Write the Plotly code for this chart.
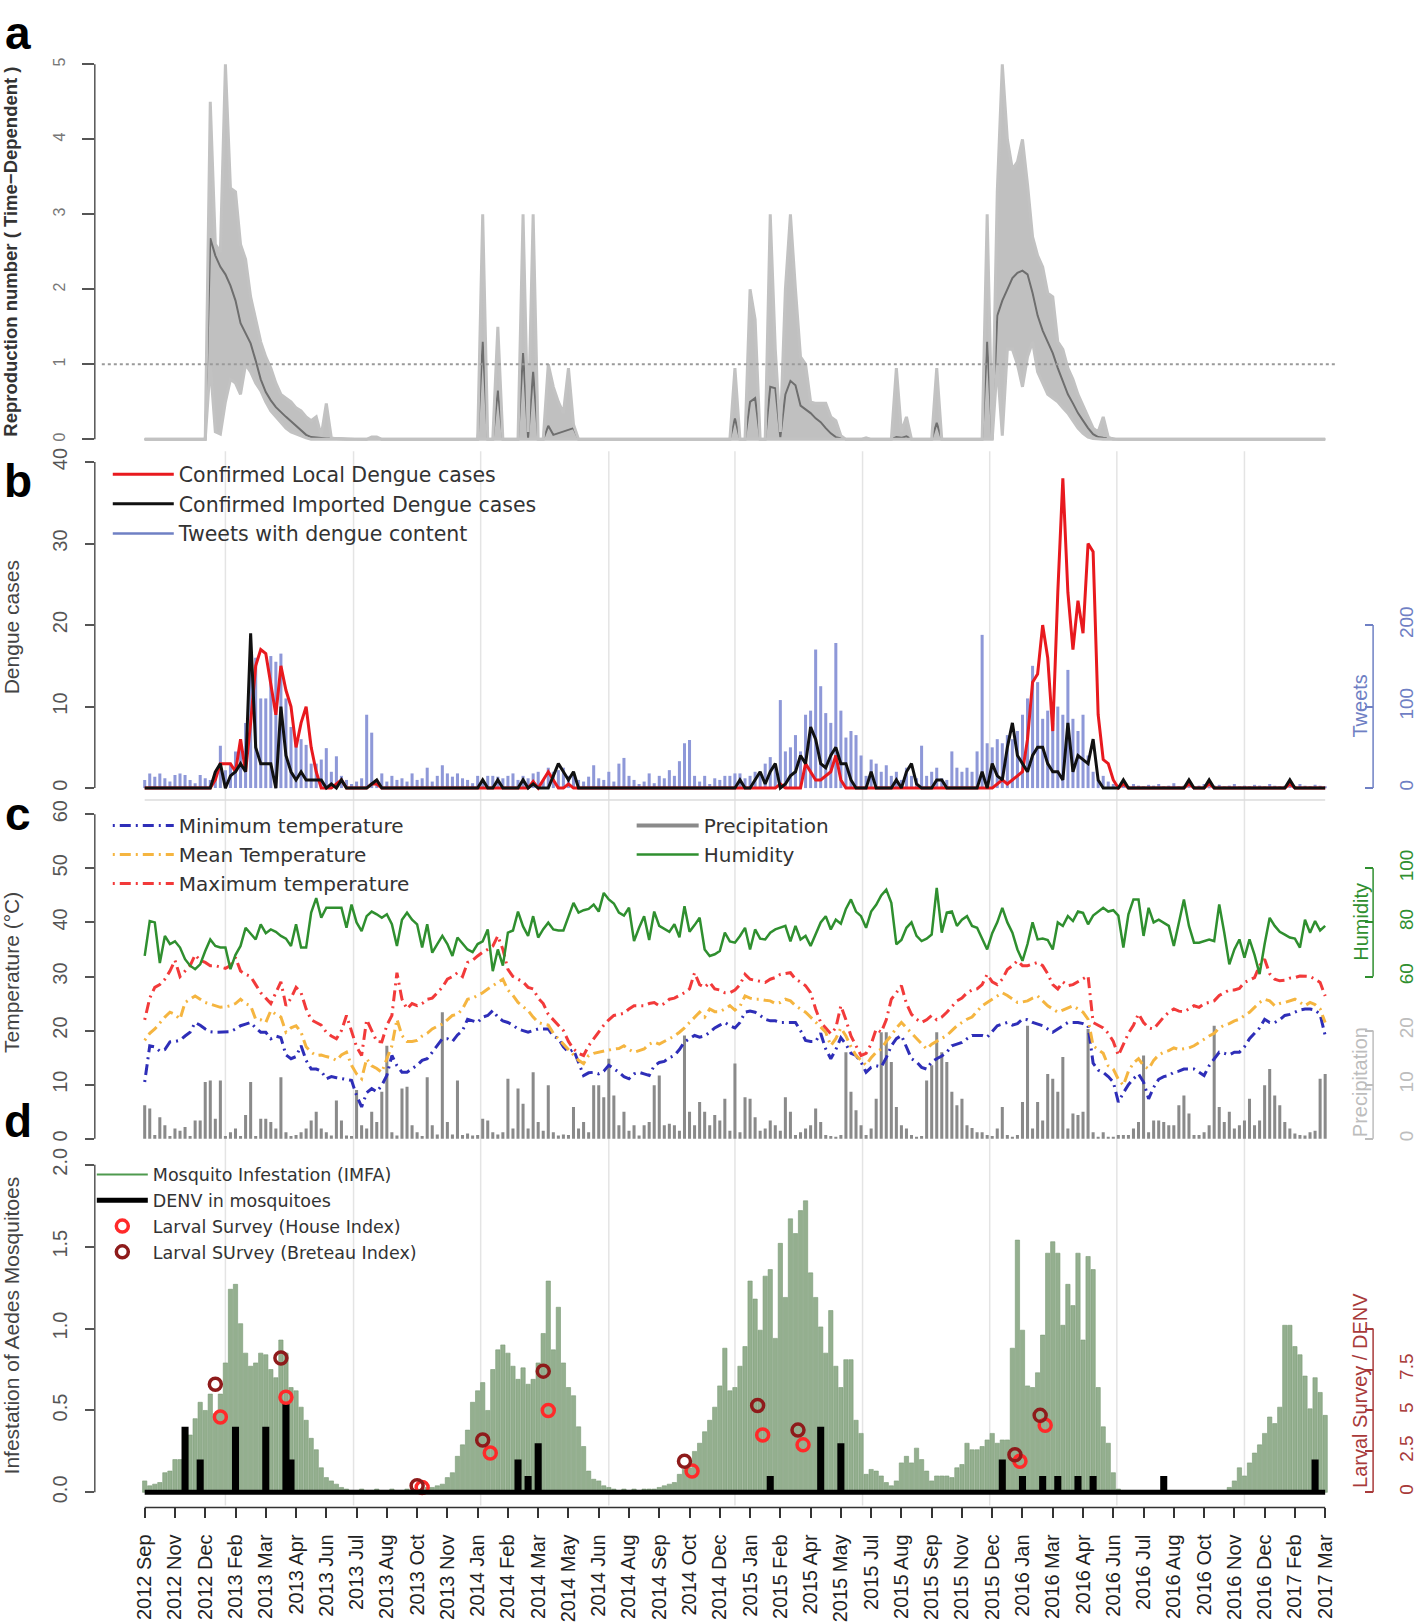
import plotly.graph_objects as go

W, H = 1418, 1624

# week index 0..234 (Sep 2012 .. Mar 2017)
weeks = list(range(235))
tick_weeks = weeks[::6]
tick_labels = [
    "2012 Sep", "2012 Nov", "2012 Dec", "2013 Feb", "2013 Mar", "2013 Apr",
    "2013 Jun", "2013 Jul", "2013 Aug", "2013 Oct", "2013 Nov", "2014 Jan",
    "2014 Feb", "2014 Mar", "2014 May", "2014 Jun", "2014 Aug", "2014 Sep",
    "2014 Oct", "2014 Dec", "2015 Jan", "2015 Feb", "2015 Apr", "2015 May",
    "2015 Jul", "2015 Aug", "2015 Sep", "2015 Nov", "2015 Dec", "2016 Jan",
    "2016 Mar", "2016 Apr", "2016 Jun", "2016 Jul", "2016 Aug", "2016 Oct",
    "2016 Nov", "2016 Dec", "2017 Feb", "2017 Mar",
]

# (a) time-dependent reproduction number
r_mid = [
    0, 0, 0, 0, 0, 0, 0, 0, 0, 0,
    0, 0, 0, 2.68, 2.45, 2.3, 2.2, 2.05, 1.85, 1.55,
    1.42, 1.28, 1.05, 0.8, 0.63, 0.52, 0.43, 0.36, 0.3, 0.24,
    0.18, 0.12, 0.06, 0.03, 0.02, 0.01, 0.01, 0.01, 0.01, 0,
    0, 0, 0, 0, 0, 0.02, 0.02, 0, 0, 0,
    0, 0, 0, 0, 0, 0, 0, 0, 0, 0,
    0, 0, 0, 0, 0, 0, 0, 1.3, 0, 0,
    0.65, 0, 0, 0, 0, 1.15, 0.02, 0.9, 0, 0,
    0.18, 0.06, 0.08, 0.1, 0.12, 0.15, 0, 0, 0, 0,
    0, 0, 0, 0, 0, 0, 0, 0, 0, 0,
    0, 0, 0, 0, 0, 0, 0, 0, 0, 0,
    0, 0, 0, 0, 0, 0, 0, 0.28, 0, 0,
    0.5, 0.55, 0, 0, 0.7, 0.68, 0.03, 0.6, 0.78, 0.72,
    0.45, 0.4, 0.35, 0.28, 0.23, 0.15, 0.08, 0.03, 0.01, 0,
    0, 0, 0, 0.01, 0, 0, 0, 0, 0, 0.03,
    0.02, 0.04, 0, 0, 0, 0, 0, 0.22, 0, 0,
    0, 0, 0, 0, 0, 0, 0, 1.3, 0, 1.65,
    1.85, 2.0, 2.15, 2.22, 2.25, 2.2, 1.95, 1.65, 1.45, 1.3,
    1.15, 0.95, 0.78, 0.6, 0.48, 0.35, 0.25, 0.15, 0.07, 0.03,
    0.02, 0.01, 0, 0, 0, 0, 0, 0, 0, 0,
    0, 0, 0, 0, 0, 0, 0, 0, 0, 0,
    0, 0, 0, 0, 0, 0, 0, 0, 0, 0,
    0, 0, 0, 0, 0, 0, 0, 0, 0, 0,
    0, 0, 0, 0, 0,
]
r_lo = [
    0, 0, 0, 0, 0, 0, 0, 0, 0, 0,
    0, 0, 0, 1.0, 0.1, 0.07, 0.5, 0.8, 0.75, 0.6,
    1.0, 0.9, 0.75, 0.65, 0.5, 0.38, 0.3, 0.22, 0.15, 0.1,
    0.07, 0.04, 0.02, 0, 0, 0, 0, 0, 0, 0,
    0, 0, 0, 0, 0, 0, 0, 0, 0, 0,
    0, 0, 0, 0, 0, 0, 0, 0, 0, 0,
    0, 0, 0, 0, 0, 0, 0, 0, 0, 0,
    0, 0, 0, 0, 0, 0, 0, 0, 0, 0,
    0, 0, 0, 0, 0, 0, 0, 0, 0, 0,
    0, 0, 0, 0, 0, 0, 0, 0, 0, 0,
    0, 0, 0, 0, 0, 0, 0, 0, 0, 0,
    0, 0, 0, 0, 0, 0, 0, 0, 0, 0,
    0, 0, 0, 0, 0, 0, 0, 0, 0, 0,
    0, 0, 0, 0, 0, 0, 0, 0, 0, 0,
    0, 0, 0, 0, 0, 0, 0, 0, 0, 0,
    0, 0, 0, 0, 0, 0, 0, 0, 0, 0,
    0, 0, 0, 0, 0, 0, 0, 0, 0, 1.0,
    0.05, 1.2, 1.2, 1.0, 0.7, 1.1, 1.3, 0.9, 0.75, 0.6,
    0.55, 0.5, 0.42, 0.35, 0.25, 0.15, 0.08, 0.03, 0.01, 0,
    0, 0, 0, 0, 0, 0, 0, 0, 0, 0,
    0, 0, 0, 0, 0, 0, 0, 0, 0, 0,
    0, 0, 0, 0, 0, 0, 0, 0, 0, 0,
    0, 0, 0, 0, 0, 0, 0, 0, 0, 0,
    0, 0, 0, 0, 0,
]
r_hi = [
    0, 0, 0, 0, 0, 0, 0, 0, 0, 0,
    0, 0, 0, 4.5, 2.6, 2.5, 5.0, 3.35, 3.3, 2.6,
    2.4, 1.9, 1.6, 1.3, 1.1, 0.95, 0.75, 0.6, 0.55, 0.5,
    0.42, 0.38, 0.3, 0.25, 0.3, 0.05, 0.48, 0.02, 0.01, 0,
    0, 0, 0, 0, 0, 0.03, 0.03, 0, 0, 0,
    0, 0, 0, 0, 0, 0, 0, 0, 0, 0,
    0, 0, 0, 0, 0, 0, 0, 3.0, 0, 0,
    1.5, 0, 0, 0, 0, 3.0, 0.1, 3.0, 0, 0,
    1.0, 0.7, 0.5, 0.35, 0.95, 0.2, 0, 0, 0, 0,
    0, 0, 0, 0, 0, 0, 0, 0, 0, 0,
    0, 0, 0, 0, 0, 0, 0, 0, 0, 0,
    0, 0, 0, 0, 0, 0, 0, 0.95, 0, 0,
    2.0, 1.6, 0, 0, 3.0, 1.2, 0.1, 2.0, 3.0, 2.0,
    1.1, 1.0, 0.5, 0.48, 0.48, 0.48, 0.3, 0.25, 0.05, 0,
    0, 0, 0, 0.02, 0, 0, 0, 0, 0, 0.95,
    0.1, 0.3, 0, 0, 0, 0, 0, 0.95, 0, 0,
    0, 0, 0, 0, 0, 0, 0, 3.0, 0, 3.3,
    5.0, 4.0, 3.6, 3.7, 4.0, 3.4, 2.7, 2.45, 2.3, 1.95,
    1.9, 1.3, 1.2, 0.95, 0.8, 0.6, 0.45, 0.3, 0.15, 0.1,
    0.3, 0.03, 0, 0, 0, 0, 0, 0, 0, 0,
    0, 0, 0, 0, 0, 0, 0, 0, 0, 0,
    0, 0, 0, 0, 0, 0, 0, 0, 0, 0,
    0, 0, 0, 0, 0, 0, 0, 0, 0, 0,
    0, 0, 0, 0, 0,
]

# (b) dengue cases and tweets
local_cases = [
    0, 0, 0, 0, 0, 0, 0, 0, 0, 0,
    0, 0, 0, 0, 1, 3, 3, 3, 2, 6,
    2, 8, 15, 17, 16.5, 13, 9, 15, 12, 10,
    5, 8, 10, 5, 2, 0, 0, 0, 0.5, 1,
    0, 0, 0, 0, 0, 0.5, 0.5, 0, 0, 0,
    0, 0, 0, 0, 0, 0, 0, 0, 0, 0,
    0, 0, 0, 0, 0, 0, 0, 0, 0, 0,
    0, 0, 0, 0, 0, 0, 0, 0.8, 0, 1,
    2, 1, 0, 0, 0.5, 0, 0, 0, 0, 0,
    0, 0, 0, 0, 0, 0, 0, 0, 0, 0,
    0, 0, 0, 0, 0, 0, 0, 0, 0, 0,
    0, 0, 0, 0, 0, 0, 0, 0, 0, 0,
    0, 0, 0, 0, 0, 0, 0.5, 0, 0, 0,
    0, 3, 2, 1, 1, 1.5, 2, 4, 1, 0,
    0, 0, 0, 0, 0, 0, 0, 0, 0, 0,
    0, 0, 0, 0, 0, 0, 0, 0, 0, 0,
    0, 0, 0, 0, 0, 0, 0, 0, 0, 0.5,
    1, 0.5, 1, 1.5, 2, 6, 13, 14, 20, 16,
    7, 24, 38, 24, 17, 23, 19, 30, 29, 9,
    3.5, 3, 1, 0, 0.5, 0, 0, 0, 0, 0,
    0, 0, 0, 0, 0, 0, 0, 0.5, 0, 0,
    0, 0.5, 0, 0, 0, 0, 0, 0, 0, 0,
    0, 0, 0, 0, 0, 0, 0, 0.5, 0, 0,
    0, 0, 0, 0, 0,
]
imported_cases = [
    0, 0, 0, 0, 0, 0, 0, 0, 0, 0,
    0, 0, 0, 0, 2, 3, 0, 1.5, 2, 3,
    2, 19, 5, 3, 3, 3, 0, 10, 4, 2,
    1, 2, 1, 1, 1, 1, 0, 0.5, 0, 1,
    0, 0, 0, 0, 0, 0.5, 1, 0, 0, 0,
    0, 0, 0, 0, 0, 0, 0, 0, 0, 0,
    0, 0, 0, 0, 0, 0, 0, 1, 0, 0,
    1, 0, 0, 0, 0, 1, 0, 0.5, 0, 0,
    0, 1.5, 3, 2, 1, 2, 0, 0, 0, 0,
    0, 0, 0, 0, 0, 0, 0, 0, 0, 0,
    0, 0, 0, 0, 0, 0, 0, 0, 0, 0,
    0, 0, 0, 0, 0, 0, 0, 0, 1, 0,
    0, 1, 2, 0.5, 2, 3, 0, 0.5, 1.5, 2,
    4, 3, 7.5, 6, 3, 2.5, 4, 5, 3, 3,
    1, 0, 0, 0, 2, 0, 0, 0, 0, 1,
    0, 2, 3, 0.5, 0, 0, 0, 1, 1, 0,
    0, 0, 0, 0, 0, 0, 2, 0, 3, 1.5,
    1, 5, 8, 4, 3, 2, 4, 5, 5, 3,
    2, 2, 1, 8, 2, 4, 3.5, 3, 6, 1,
    0, 0, 0, 0, 1, 0, 0, 0, 0, 0,
    0, 0, 0, 0, 0, 0, 0, 1, 0, 0,
    0, 1, 0, 0, 0, 0, 0, 0, 0, 0,
    0, 0, 0, 0, 0, 0, 0, 1, 0, 0,
    0, 0, 0, 0, 0,
]
tweets = [
    10, 18, 14, 18, 12, 8, 16, 18, 16, 10,
    6, 16, 12, 10, 20, 52, 22, 30, 45, 60,
    80, 150, 160, 110, 110, 162, 155, 165, 110, 75,
    55, 60, 53, 30, 30, 35, 49, 20, 39, 15,
    10, 5, 8, 12, 90, 68, 10, 18, 8, 15,
    10, 12, 8, 18, 10, 12, 25, 8, 15, 28,
    18, 14, 18, 12, 10, 6, 15, 10, 15, 15,
    14, 12, 15, 18, 10, 15, 12, 18, 20, 10,
    25, 20, 22, 25, 15, 18, 10, 8, 14, 28,
    12, 10, 20, 8, 30, 37, 15, 10, 5, 8,
    18, 6, 15, 12, 22, 15, 33, 55, 59, 15,
    8, 15, 5, 12, 10, 15, 15, 18, 18, 12,
    15, 20, 20, 30, 38, 25, 108, 45, 50, 65,
    45, 90, 95, 170, 125, 92, 80, 178, 95, 62,
    70, 65, 40, 15, 35, 30, 20, 28, 15, 20,
    10, 25, 15, 12, 52, 15, 20, 25, 12, 10,
    45, 25, 20, 25, 20, 45, 188, 55, 50, 60,
    55, 65, 60, 70, 90, 110, 150, 130, 85, 95,
    80, 100, 90, 145, 85, 70, 90, 40, 20, 10,
    15, 8, 5, 3, 4, 2, 5, 3, 2, 4,
    3, 5, 2, 3, 6, 2, 3, 4, 2, 3,
    5, 2, 3, 4, 2, 3, 5, 2, 3, 2,
    4, 3, 2, 5, 3, 2, 3, 4, 2, 5,
    3, 2, 4, 3, 2,
]

# (c) weather
temp_min = [
    10.5, 17.2, 17, 16.2, 16.5, 17.9, 18, 18.2, 19, 19.7,
    21.5, 21, 20.3, 19.8, 19.7, 19.7, 19.7, 19.8, 20.3, 20.9,
    21.2, 21.5, 20.5, 19.7, 19.7, 18.5, 19, 18.7, 15.5, 14.8,
    15.2, 17.2, 14.5, 12.9, 12.9, 12.5, 11.1, 11.5, 11.3, 11.1,
    11, 10.8, 8, 5.9, 8.5, 9.3, 8.7, 9.9, 11.7, 15.4,
    13.5, 12.3, 12.3, 13, 13.6, 14.5, 14.8, 16, 17.3, 18.5,
    18.5, 18, 19.2, 20, 22.1, 21.8, 21.5, 22.5, 22.8, 23.7,
    22.5, 21.8, 21.5, 21, 20.3, 20, 19.7, 20, 20.3, 20.3,
    20.3, 19, 18.5, 17, 16, 16.5, 14, 11.7, 12.2, 12.3,
    12, 12.5, 13.6, 13, 12.3, 11.5, 11.1, 12, 12.3, 12,
    11.7, 13.5, 14.1, 14.3, 15, 15.4, 16.5, 17.9, 18.5, 19.1,
    18.8, 19, 19.7, 20.5, 21, 21.5, 20.9, 20.5, 21.5, 23.4,
    23.6, 23.4, 22.8, 22.1, 21.8, 21.8, 21.5, 21.5, 21.5, 21.5,
    20, 18.2, 18, 18, 19.5, 16.6, 14.8, 16.5, 18.7, 17.5,
    15.8, 15.4, 14.2, 12.3, 13.2, 13.5, 13.3, 15, 17.2, 18.5,
    19.1, 17, 14.8, 14.2, 13.2, 12.9, 14.2, 14.8, 15.3, 16,
    17.2, 17.5, 17.8, 18.5, 19.1, 19.1, 19.1, 18.8, 19.8, 20.9,
    21.2, 21.5, 21, 21.3, 22.1, 22, 21.5, 21.2, 20.9, 20.3,
    19.7, 20.3, 20.9, 21.5, 21.5, 21.5, 21.3, 20.9, 14, 12.7,
    12.3, 11.5, 10.5, 6.8, 8.5, 10, 11.1, 12, 10.5, 7.4,
    9.5, 11, 11.5, 11.7, 12.3, 12.5, 12.9, 12.9, 12.9, 12.3,
    11.7, 13.5, 14.8, 16, 15.8, 15.5, 16, 16, 17, 18.5,
    19.5, 20.5, 22.1, 21.5, 21.5, 22, 22.8, 23, 23.4, 23.8,
    24, 24, 23.8, 23, 19.1,
]
temp_mean = [
    18.2, 19.5, 20.3, 21.5, 22.5, 23.4, 23, 22.1, 25.2, 25.8,
    26.4, 25.8, 25.2, 24.9, 24.6, 24.3, 24.4, 24.6, 25, 25.8,
    25, 24.6, 22.1, 22, 21.5, 23.7, 23, 22.5, 19.7, 20.5,
    20.9, 19.7, 17, 16, 15.4, 15.5, 15.2, 15, 14.5, 15.5,
    16, 13.6, 12, 11.1, 14.8, 13.5, 13, 12.3, 14.8, 17.2,
    22.1, 19.1, 18, 18, 18.2, 19, 19.5, 20.3, 20.8, 21.2,
    22, 22.8, 23, 24, 25.8, 26, 26.5, 27, 27.7, 28.3,
    28.9, 29.5, 27.5, 26.5, 25.2, 24.5, 23.7, 22.5, 21.5, 21.2,
    21, 19.5, 18.5, 17.5, 16.5, 15.4, 14.5, 13.9, 15.4, 15.8,
    16, 16.3, 16.5, 16.6, 16.7, 17.2, 16.5, 16, 16.3, 16.6,
    17.5, 17.9, 17.5, 18, 18.5, 19, 19.7, 20.5, 21.5, 22.5,
    23.4, 22.5, 24, 23.5, 23.5, 24, 24.6, 23.8, 24.5, 26.4,
    26, 25.8, 25.8, 25.6, 25.5, 25, 25.2, 25.8, 25.5, 24.6,
    24, 23.4, 22.5, 21.5, 20.5, 19.7, 17.2, 18.5, 20.5, 19,
    17, 15.4, 14.5, 13.6, 15, 16, 16.6, 18, 19.1, 20.5,
    21.5, 20.5, 19.5, 18.5, 17.5, 16.6, 17.5, 18, 18.5, 19.1,
    20, 20.9, 21.5, 22.1, 22.5, 23.5, 24.6, 25.2, 25.8, 26.5,
    27, 26.5, 25.8, 25.2, 25.3, 25.5, 26, 26.4, 25.5, 24.6,
    24, 23.4, 23.8, 24.2, 24.6, 24, 23.4, 22.1, 17.2, 16.5,
    15.8, 13.5, 12.9, 11, 9.9, 12.5, 14, 14.8, 13.5, 12.9,
    14.5, 15.5, 16, 16.3, 16.8, 16.5, 16.6, 16.8, 17.2, 17.8,
    18.5, 19, 19.5, 20.5, 21, 21.3, 21.8, 22.1, 22.8, 23.4,
    24.3, 25.2, 25.8, 25.5, 24.6, 25, 25.2, 25.5, 25.8, 25.2,
    24.6, 25.2, 24.8, 24, 21.5,
]
temp_max = [
    22, 26, 28, 28.5, 29.5, 31, 33, 30, 31, 32,
    34, 33, 32.6, 32, 32, 31.7, 31.5, 32, 33.5, 31,
    30.4, 30, 28.5, 27, 26, 25, 27, 29, 24.6, 26,
    28, 27, 24, 22, 21.5, 21, 19.7, 19, 18.5, 20,
    22.8, 19.7, 17, 15.4, 22, 20, 18, 17.9, 21, 22.8,
    30.7, 25.8, 24, 25, 24.6, 25, 25.8, 26, 27, 28,
    29.5, 30, 30.7, 30, 32.6, 33, 33.8, 34.5, 35, 35.6,
    37.5, 35, 31.3, 30, 29.5, 29, 28, 27.7, 26, 25,
    23, 22, 21, 20, 18, 16.6, 15.8, 15.4, 17.2, 18.5,
    19.7, 21, 22, 22.8, 23, 23.2, 24, 24.6, 24.6, 24.6,
    25, 25.2, 24.6, 25, 25.8, 26, 26.5, 27, 27.7, 30.7,
    28.5, 28, 28.9, 27.7, 27.5, 27, 27, 27.5, 28.5, 30.4,
    29.5, 29.3, 29, 28.9, 29.5, 29.8, 30.4, 30.5, 30.7, 29.5,
    29, 28.3, 27, 24, 21.5, 20.5, 19.4, 20.5, 24.6, 22,
    19, 17.2, 15.4, 15.8, 17.5, 20.3, 19.7, 22, 25.8, 27,
    28.3, 25, 23, 22.1, 21.5, 22, 22.8, 22, 22.5, 23.4,
    24.5, 25.5, 26, 27, 27.5, 27.7, 28.5, 30.4, 29, 28.5,
    29.5, 31.3, 32, 32.9, 32, 32, 32.3, 32.6, 32, 30.5,
    28.5, 27.7, 29, 28.3, 28.5, 29, 29.5, 30.1, 21.5, 21,
    20.5, 19.5, 18, 15.4, 17.5, 19.5, 21, 23.1, 21.5, 20.5,
    20.3, 21.5, 22.5, 23.4, 24, 23.6, 23.5, 24, 24.6, 24.3,
    25, 25.2, 25.5, 26.5, 27, 27.5, 27.5, 27.8, 28.9, 29.3,
    29.8, 32, 33.2, 30.5, 29.5, 29.2, 29.3, 29.7, 29.8, 30.1,
    30.1, 30, 29.5, 28.9, 26.4,
]
humidity = [
    67.6, 80.5, 80, 65, 75, 72, 73, 70.7, 66.4, 64,
    62.7, 64.5, 69.4, 73.7, 71.3, 70.7, 70.7, 62.7, 68, 71.3,
    78, 76, 73.7, 79.3, 76, 77.4, 76.5, 75, 74, 71.3,
    79.3, 70.7, 70.7, 83.6, 89, 81.7, 85.4, 85.4, 85.4, 85.4,
    78, 86.6, 80, 76.8, 82.3, 84, 83, 81.7, 83, 79.3,
    71.3, 81, 83.6, 81, 79.3, 70.7, 79.3, 68.8, 72, 75,
    72, 67.6, 74.4, 72, 70, 69, 72, 73, 77.4, 62,
    70, 64, 76.2, 77, 84, 78.5, 75, 82.3, 74.4, 77.5,
    79.9, 77.4, 77, 77, 82, 87.2, 83.6, 84.5, 85, 86.6,
    84, 90.9, 88.5, 87, 83.6, 82.5, 85.4, 73.1, 78, 82.3,
    73.5, 84, 78.7, 77.5, 76.5, 79.3, 74.5, 86, 76.5, 79,
    81.7, 70, 67.6, 68.2, 69.4, 76.2, 73, 72.5, 75, 78,
    70, 77.4, 74, 73.7, 76.2, 77.4, 78, 78.7, 73, 78.7,
    73.7, 75, 71.3, 76, 80, 82.3, 77.4, 81, 79.5, 85,
    88.5, 84, 82.3, 78, 84, 86.5, 90, 92.1, 87.2, 71.9,
    73.5, 78, 80, 75, 73.1, 74, 75.5, 92.8, 76.2, 83.6,
    84, 78.7, 81, 82.3, 78.7, 78, 73.7, 70, 76, 80,
    85.4, 80, 76.2, 70, 65.8, 72, 80, 73.7, 74, 73.5,
    70, 80, 78.7, 82.3, 80.5, 84, 83.5, 79.3, 82.5, 84,
    85.4, 84, 84.5, 82.5, 70.7, 83, 88.5, 88.5, 75, 85.4,
    80, 81, 79.9, 78.7, 71.3, 80, 88.5, 78.7, 72.5, 72.5,
    73, 73.7, 73.1, 86.6, 76.2, 64.5, 70, 73.7, 67, 73.7,
    68, 60.9, 72, 81.7, 78.7, 76.5, 75.5, 74.4, 74, 70.7,
    81, 76.2, 80.5, 77, 78.7,
]
precip = [
    6.2, 5.6, 0.7, 4, 2.5, 0.5, 1.9, 1.5, 2.2, 0.5,
    3.4, 3.4, 10.5, 10.8, 3.7, 10.8, 0.5, 1.2, 1.9, 0.5,
    4.4, 10.5, 0.5, 3.7, 3.7, 3.1, 1.9, 11.4, 1.2, 0.5,
    0.7, 1.2, 1.9, 3.4, 5, 1.9, 1.2, 0.6, 7.1, 3.4,
    0.6, 0.5, 9, 2.5, 1.9, 5, 3.1, 8.7, 17.2, 1.2,
    0.6, 9.3, 9.6, 2.5, 1.2, 0.5, 11.4, 2.5, 0.8, 23.4,
    3.1, 0.8, 10.8, 0.7, 1, 0.6, 0.7, 3.7, 3.4, 1.2,
    0.8, 1.2, 11.1, 1.9, 9.3, 6.5, 1.9, 12.3, 3.1, 1.5,
    9.9, 1.2, 0.6, 0.8, 0.7, 5.9, 1.9, 3.1, 1.2, 9.9,
    9.9, 7.7, 14.8, 8, 2.5, 5, 1.5, 2.5, 0.6, 2.5,
    3.1, 9.9, 11.7, 2.5, 2.8, 2.5, 1.5, 19.1, 5, 2.5,
    6.8, 5, 2.5, 4.4, 3.4, 7.4, 1.5, 13.9, 1.2, 7.7,
    7.4, 4, 1.5, 1.9, 3.4, 2.5, 1.5, 7.7, 5, 0.7,
    1.2, 1.9, 2.5, 5.6, 3.1, 0.7, 0.5, 0.4, 0.7, 16,
    8.7, 5.3, 2.5, 0.7, 1.9, 7.4, 19.7, 19.7, 14.2, 5.9,
    2.5, 1.9, 0.7, 0.4, 0.5, 10.8, 13.6, 19.7, 16, 14.2,
    8.7, 6.2, 7.4, 2.5, 2, 1.2, 1.2, 0.7, 0.5, 1.9,
    5.9, 0.7, 0.4, 0.7, 6.8, 20.9, 1.9, 6.8, 3.4, 12,
    11.1, 8.7, 15.1, 1.9, 4.7, 4.4, 5, 20.3, 1.2, 0.4,
    1.2, 0.4, 0.4, 0.7, 0.7, 0.7, 1.9, 3.1, 15.4, 1.2,
    3.4, 3.4, 3.1, 2.5, 2.5, 6.2, 8, 4.7, 0.7, 0.7,
    1.2, 2.5, 20.9, 5.9, 3.1, 5, 1.9, 2.5, 3.4, 7.4,
    2.5, 3.4, 9.9, 12.9, 8, 6.2, 3.1, 1.9, 1, 0.7,
    0.6, 1.2, 1.5, 11.1, 12,
]

# (d) mosquitoes
imfa = [
    0.07, 0.04, 0.05, 0.06, 0.12, 0.13, 0.2, 0.2, 0.31, 0.35,
    0.45, 0.55, 0.5, 0.6, 0.48, 0.6, 0.79, 1.24, 1.27, 1.03,
    0.85, 0.77, 0.79, 0.85, 0.84, 0.75, 0.7, 0.93, 0.85, 0.64,
    0.62, 0.52, 0.44, 0.33, 0.26, 0.15, 0.09, 0.07, 0.05, 0.03,
    0.02, 0.01, 0.01, 0.02, 0.01, 0.01, 0.02, 0.01, 0.01, 0.02,
    0.01, 0.01, 0.02, 0.01, 0.02, 0.02, 0.03, 0.03, 0.04, 0.05,
    0.09, 0.12, 0.22, 0.29, 0.38, 0.55, 0.62, 0.67, 0.5, 0.75,
    0.87, 0.9, 0.85, 0.77, 0.69, 0.76, 0.66, 0.69, 0.79, 0.97,
    1.29, 0.87, 1.13, 0.79, 0.64, 0.59, 0.4, 0.28, 0.13, 0.08,
    0.07, 0.04, 0.03, 0.02, 0.01, 0.02, 0.01, 0.02, 0.01, 0.02,
    0.02, 0.02, 0.03, 0.04, 0.05, 0.06, 0.11, 0.14, 0.15, 0.25,
    0.3, 0.37, 0.44, 0.52, 0.65, 0.88, 0.62, 0.64, 0.77, 0.89,
    1.29, 1.18, 0.99, 1.32, 1.36, 0.94, 1.52, 1.19, 1.67, 1.58,
    1.72, 1.78, 1.34, 1.19, 1.01, 0.85, 1.11, 0.77, 0.64, 0.81,
    0.81, 0.44, 0.36, 0.11, 0.14, 0.13, 0.1, 0.06, 0.04, 0.07,
    0.18, 0.22, 0.18, 0.27, 0.2, 0.13, 0.07, 0.1, 0.1, 0.1,
    0.09, 0.15, 0.17, 0.3, 0.26, 0.26, 0.28, 0.32, 0.36, 0.3,
    0.32, 0.32, 0.88, 1.54, 0.99, 0.65, 0.64, 0.73, 0.96, 1.46,
    1.53, 1.46, 1.02, 1.27, 1.14, 1.46, 0.93, 1.44, 1.36, 0.64,
    0.4, 0.3, 0.12, 0.02, 0.01, 0.01, 0.01, 0.01, 0.01, 0.01,
    0.01, 0.01, 0.01, 0.01, 0.01, 0.01, 0.01, 0.01, 0.01, 0.01,
    0.01, 0.01, 0.01, 0.01, 0.01, 0.03, 0.07, 0.15, 0.1, 0.18,
    0.24, 0.29, 0.36, 0.46, 0.42, 0.52, 1.02, 1.02, 0.89, 0.84,
    0.71, 0.51, 0.7, 0.61, 0.47,
]
denv_week = [8, 11, 18, 24, 28, 29, 74, 76, 78, 124, 134, 138, 170, 174, 178, 181, 185, 188, 202, 232]
denv_count = [4, 2, 4, 4, 5.5, 2, 2, 1, 3, 1, 4, 3, 2, 1, 1, 1, 1, 1, 1, 2]
house_week = [15, 28, 55, 68.5, 80, 108.5, 122.5, 130.5, 173.5, 178.5]
house_index = [4.6, 5.8, 0.3, 2.4, 5.0, 1.3, 3.5, 2.9, 1.9, 4.1]
breteau_week = [14, 27, 54, 67, 79, 107, 121.5, 129.5, 172.5, 177.5]
breteau_index = [6.6, 8.2, 0.4, 3.2, 7.4, 1.9, 5.3, 3.8, 2.3, 4.7]

for name, s in [("r_mid", r_mid), ("r_lo", r_lo), ("r_hi", r_hi), ("local", local_cases),
                ("imported", imported_cases), ("tweets", tweets), ("tmin", temp_min),
                ("tmean", temp_mean), ("tmax", temp_max), ("hum", humidity),
                ("precip", precip), ("imfa", imfa)]:
    assert len(s) == len(weeks), (name, len(s))

# light vertical guide lines (week positions)
grid_weeks = [16, 41.4, 66.6, 92, 117, 142.3, 167.5, 192.7, 218]


def px(x):
    # page pixel -> paper x
    return x / W


def py(y):
    # page pixel (from top) -> paper y
    return 1 - y / H


FONT = "Liberation Sans, Arial, sans-serif"
LEG_FONT = "DejaVu Sans, Liberation Sans, sans-serif"
TWEET_C = "#6F80C4"
HUM_C = "#2F8F2F"
PREC_C = "#BDBDBD"
LARV_C = "#A83A3A"
AXIS_C = "#555555"
TEMP_DASH = "2px,5px,11px,5px"

fig = go.Figure()

# ---- a
fig.add_trace(go.Scatter(x=weeks, y=r_mid, mode="lines", line=dict(color="#4A4A4A", width=2),
                         yaxis="y", showlegend=False))
fig.add_trace(go.Scatter(x=weeks, y=r_lo, mode="lines", line=dict(color="#C2C2C2", width=3),
                         yaxis="y", showlegend=False))
fig.add_trace(go.Scatter(x=weeks, y=r_hi, mode="lines", line=dict(color="#C2C2C2", width=3),
                         fill="tonexty", fillcolor="rgba(140,140,140,0.55)", yaxis="y", showlegend=False))

# ---- b
fig.add_trace(go.Bar(x=weeks, y=tweets, width=0.6, marker=dict(color="#8E98D8", line=dict(width=0)),
                     yaxis="y2", showlegend=False))
fig.add_trace(go.Scatter(x=weeks, y=local_cases, mode="lines", name="Confirmed Local Dengue cases",
                         line=dict(color="#E8191E", width=3), yaxis="y3", legend="legend", legendrank=1))
fig.add_trace(go.Scatter(x=weeks, y=imported_cases, mode="lines", name="Confirmed Imported Dengue cases",
                         line=dict(color="#111111", width=3), yaxis="y3", legend="legend", legendrank=2))
fig.add_trace(go.Scatter(x=[None], y=[None], mode="lines", name="Tweets with dengue content",
                         line=dict(color=TWEET_C, width=2.5), yaxis="y2", legend="legend", legendrank=3))

# ---- c
fig.add_trace(go.Bar(x=weeks, y=precip, width=0.6, marker=dict(color="#8A8A8A", line=dict(width=0)),
                     yaxis="y4", showlegend=False))
fig.add_trace(go.Scatter(x=weeks, y=temp_min, mode="lines", name="Minimum temperature",
                         line=dict(color="#2E2EB8", width=3, dash=TEMP_DASH), yaxis="y5",
                         legend="legend2", legendrank=1))
fig.add_trace(go.Scatter(x=weeks, y=temp_mean, mode="lines", name="Mean Temperature",
                         line=dict(color="#F5B540", width=3, dash=TEMP_DASH), yaxis="y5",
                         legend="legend2", legendrank=2))
fig.add_trace(go.Scatter(x=weeks, y=temp_max, mode="lines", name="Maximum temperature",
                         line=dict(color="#F23A3A", width=3, dash=TEMP_DASH), yaxis="y5",
                         legend="legend2", legendrank=3))
fig.add_trace(go.Scatter(x=[None], y=[None], mode="lines", name="Precipitation",
                         line=dict(color="#8A8A8A", width=4), yaxis="y4", legend="legend3", legendrank=1))
fig.add_trace(go.Scatter(x=weeks, y=humidity, mode="lines", name="Humidity",
                         line=dict(color=HUM_C, width=2.5), yaxis="y6", legend="legend3", legendrank=2))

# ---- d
fig.add_trace(go.Bar(x=weeks, y=imfa, width=0.85,
                     marker=dict(color="#94AF8F", line=dict(color="#7A9A75", width=0.6)),
                     yaxis="y7", showlegend=False))
fig.add_trace(go.Bar(x=denv_week, y=denv_count, width=1.4, marker=dict(color="black", line=dict(width=0)),
                     yaxis="y8", showlegend=False))
fig.add_trace(go.Scatter(x=[None], y=[None], mode="lines", name="Mosquito Infestation (IMFA)",
                         line=dict(color="#4E9A4E", width=2), yaxis="y7", legend="legend4", legendrank=1))
fig.add_trace(go.Scatter(x=[None], y=[None], mode="lines", name="DENV in mosquitoes",
                         line=dict(color="black", width=5), yaxis="y8", legend="legend4", legendrank=2))
fig.add_trace(go.Scatter(x=house_week, y=house_index, mode="markers", name="Larval Survey (House Index)",
                         marker=dict(symbol="circle-open", size=12, color="#FF2A2A", line=dict(width=3.5)),
                         yaxis="y8", legend="legend4", legendrank=3))
fig.add_trace(go.Scatter(x=breteau_week, y=breteau_index, mode="markers", name="Larval SUrvey (Breteau Index)",
                         marker=dict(symbol="circle-open", size=12, color="#8E1B1B", line=dict(width=3.5)),
                         yaxis="y8", legend="legend4", legendrank=4))


def left_axis(domain=None, overlay=None, **kw):
    ax = dict(anchor="x", side="left", showgrid=False, zeroline=False, showline=False,
              ticks="outside", ticklen=9, tickwidth=1.5, tickcolor=AXIS_C, tickangle=-90,
              tickfont=dict(size=20, color=AXIS_C), ticklabelstandoff=10)
    if domain:
        ax["domain"] = domain
    if overlay:
        ax["overlaying"] = overlay
    ax.update(kw)
    return ax


def right_axis(color, domain=None, overlay=None, **kw):
    ax = dict(anchor="x", side="right", showgrid=False, zeroline=False, showline=False,
              ticks="inside", ticklen=8, tickwidth=1.5, tickcolor=color, tickangle=-90,
              tickfont=dict(size=19, color=color), ticklabelstandoff=20)
    if domain:
        ax["domain"] = domain
    if overlay:
        ax["overlaying"] = overlay
    ax.update(kw)
    return ax


def legend_box(xpix, ypix, size, itemwidth):
    return dict(x=px(xpix), y=py(ypix), xanchor="left", yanchor="top", bgcolor="rgba(0,0,0,0)",
                font=dict(size=size, color="#333", family=LEG_FONT), itemwidth=itemwidth,
                tracegroupgap=0, traceorder="normal")


title_font = dict(size=21, color="#444")

layout = dict(
    width=W, height=H, margin=dict(l=0, r=0, t=0, b=0),
    paper_bgcolor="white", plot_bgcolor="white",
    font=dict(family=FONT, color="#333"), barmode="overlay", hovermode=False,
    xaxis=dict(domain=[px(92), px(1373)], range=[-9.89, 243.5], anchor="y7",
               tickvals=tick_weeks, ticktext=tick_labels, tickangle=-90,
               ticks="outside", ticklen=10, tickwidth=1.5, tickcolor="#333",
               tickfont=dict(size=20, color="#222"), ticklabelstandoff=8,
               showgrid=False, zeroline=False, showline=False),
    yaxis=left_axis(domain=[py(448), py(45)], range=[-0.173, 5.18], tickvals=[0, 1, 2, 3, 4, 5],
                    tickfont=dict(size=16, color="#777"), ticklen=12,
                    title=dict(text="<b>Reproduction number ( Time\u2212Dependent )</b>",
                               font=dict(size=18.5, color="#333"), standoff=33)),
    yaxis2=right_axis(TWEET_C, domain=[py(797), py(450)], range=[-14.7, 409.5], tickvals=[0, 100, 200]),
    yaxis3=left_axis(overlay="y2", range=[-1.47, 40.95], tickvals=[0, 10, 20, 30, 40],
                     title=dict(text="Dengue cases", font=title_font, standoff=32)),
    yaxis4=right_axis(PREC_C, domain=[py(1140), py(800)], range=[-0.55, 62.06], tickvals=[0, 10, 20]),
    yaxis5=left_axis(overlay="y4", range=[-0.55, 62.06], tickvals=[0, 10, 20, 30, 40, 50, 60],
                     title=dict(text="Temperature (\u00b0C)", font=title_font, standoff=32)),
    yaxis6=right_axis(HUM_C, overlay="y4", range=[-1.1, 124.12], tickvals=[60, 80, 100]),
    yaxis7=left_axis(domain=[py(1507), py(1142)], range=[-0.092, 2.128],
                     tickvals=[0, 0.5, 1, 1.5, 2], ticktext=["0.0", "0.5", "1.0", "1.5", "2.0"],
                     title=dict(text="Infestation of Aedes Mosquitoes", font=title_font, standoff=34)),
    yaxis8=right_axis(LARV_C, overlay="y7", range=[-0.92, 21.28], tickvals=[0, 2.5, 5, 7.5, 10],
                      ticktext=["0", "2.5", "5", "7.5", ""]),
    legend=legend_box(105, 450, 20.5, 61),
    legend2=legend_box(105, 803, 20, 61),
    legend3=legend_box(630, 803, 20, 62),
    legend4=legend_box(89, 1155, 17.5, 51),
)

shapes = []
for g in grid_weeks:
    shapes.append(dict(type="line", xref="x", yref="paper", x0=g, x1=g, y0=py(1505), y1=py(447),
                       line=dict(color="#E4E4E4", width=1.5), layer="below"))
# R = 1 reference
shapes.append(dict(type="line", xref="x", yref="y", x0=-8.5, x1=236.5, y0=1, y1=1,
                   line=dict(color="#9A9A9A", width=2, dash="dot")))
# R-style axis lines spanning the tick range only
for yref, y0, y1, xp, col in [("y", 0, 5, 92, AXIS_C), ("y3", 0, 40, 92, AXIS_C), ("y5", 0, 60, 92, AXIS_C),
                              ("y7", 0, 2, 92, AXIS_C), ("y2", 0, 200, 1373, TWEET_C),
                              ("y4", 0, 20, 1373, PREC_C), ("y6", 60, 100, 1373, HUM_C),
                              ("y8", 0, 10, 1373, LARV_C)]:
    shapes.append(dict(type="line", xref="paper", yref=yref, x0=px(xp), x1=px(xp), y0=y0, y1=y1,
                       line=dict(color=col, width=1.5)))
shapes.append(dict(type="line", xref="x", yref="paper", x0=0, x1=234, y0=py(1507), y1=py(1507),
                   line=dict(color="#333", width=1.5)))
shapes.append(dict(type="line", xref="x", yref="paper", x0=0, x1=234, y0=py(797), y1=py(797),
                   line=dict(color="#DDDDDD", width=1.5)))
# DENV zero baseline
shapes.append(dict(type="line", xref="x", yref="y8", x0=0, x1=234, y0=0, y1=0,
                   line=dict(color="black", width=5)))
layout["shapes"] = shapes

# panel letters; "a" sits against the top edge of the page
annotations = [dict(text="<b>a</b>", xref="paper", yref="paper", x=px(15), y=1,
                    xanchor="center", yanchor="top", showarrow=False, borderpad=0,
                    font=dict(size=46, color="black", family=FONT))]
for letter, ypix in [("b", 477), ("c", 811), ("d", 1119)]:
    annotations.append(dict(text="<b>%s</b>" % letter, xref="paper", yref="paper", x=px(15), y=py(ypix),
                            xanchor="center", yanchor="middle", showarrow=False,
                            font=dict(size=46, color="black", family=FONT)))
for text, ypix, col in [("Tweets", 703, TWEET_C), ("Humidity", 919, HUM_C),
                        ("Precipitation", 1080, PREC_C), ("Larval Survey / DENV", 1390, LARV_C)]:
    annotations.append(dict(text=text, xref="paper", yref="paper", x=px(1360), y=py(ypix),
                            xanchor="center", yanchor="middle", textangle=-90, showarrow=False,
                            font=dict(size=20, color=col, family=FONT)))
layout["annotations"] = annotations

fig.update_layout(**layout)
# drop the browser's default 8px body margin so the figure fills the page exactly
fig.write_html("out.html", config={"displayModeBar": False},
               post_script="document.body.style.margin = '0';")
